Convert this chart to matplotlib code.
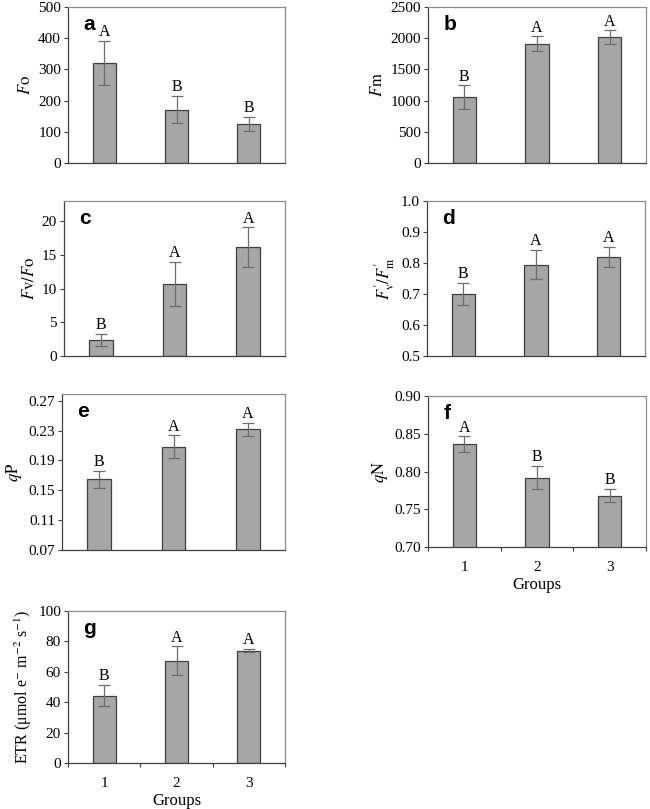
import numpy as np
import matplotlib
matplotlib.use('Agg')
import matplotlib.pyplot as plt
from matplotlib.ticker import FormatStrFormatter, FixedLocator

plt.rcParams['font.family'] = ['Liberation Serif', 'DejaVu Serif']
plt.rcParams['mathtext.fontset'] = 'stix'

# data
groups = ['1', '2', '3']
fo_mean = [321, 171, 125]
fo_err = [70, 44, 23]
fm_mean = [1058, 1912, 2019]
fm_err = [187, 120, 107]
fvfo_mean = [2.4, 10.7, 16.15]
fvfo_err = [0.9, 3.3, 2.95]
fvfm_mean = [0.700, 0.795, 0.819]
fvfm_err = [0.036, 0.047, 0.032]
qp_mean = [0.1646, 0.2084, 0.2316]
qp_err = [0.011, 0.0154, 0.0087]
qn_mean = [0.836, 0.792, 0.768]
qn_err = [0.0104, 0.0152, 0.009]
etr_mean = [44.4, 67.2, 74.0]
etr_err = [7.0, 9.6, 1.1]

sig_a = ['A', 'B', 'B']
sig_b = ['B', 'A', 'A']
sig_c = ['B', 'A', 'A']
sig_d = ['B', 'A', 'A']
sig_e = ['B', 'A', 'A']
sig_f = ['A', 'B', 'B']
sig_g = ['B', 'A', 'A']

W, H = 650, 809
fig = plt.figure(figsize=(6.5, 8.09), dpi=100)


def box(l, r, t, b):
    return [l / W, 1 - b / H, (r - l) / W, (b - t) / H]


panels = [
    ('a', box(68, 285, 7, 163), fo_mean, fo_err, sig_a, (0, 500), np.arange(0, 501, 100), '%d',
     r'$\mathit{F}\mathrm{o}$', False, 12),
    ('b', box(428, 646, 7, 163), fm_mean, fm_err, sig_b, (0, 2500), np.arange(0, 2501, 500), '%d',
     r'$\mathit{F}\mathrm{m}$', False, 12),
    ('c', box(64, 285, 201, 356), fvfo_mean, fvfo_err, sig_c, (0, 23), np.arange(0, 21, 5), '%d',
     r'$\mathit{F}\mathrm{v}/\mathit{F}\mathrm{o}$', False, 12),
    ('d', box(427, 645, 201, 356), fvfm_mean, fvfm_err, sig_d, (0.5, 1.0), np.arange(0.5, 1.01, 0.1), '%.1f',
     r"$\mathit{F}_{\mathrm{v}}^{\prime}/\mathit{F}_{\mathrm{m}}^{\prime}$", False, 12),
    ('e', box(62, 285, 394, 550), qp_mean, qp_err, sig_e, (0.07, 0.279), np.arange(0.07, 0.28, 0.04), '%.2f',
     r'$\mathit{q}\mathrm{P}$', False, 12),
    ('f', box(428, 646, 396, 547), qn_mean, qn_err, sig_f, (0.70, 0.90), np.arange(0.70, 0.91, 0.05), '%.2f',
     r'$\mathit{q}\mathrm{N}$', True, 12),
    ('g', box(68, 285, 611, 763), etr_mean, etr_err, sig_g, (0, 100), np.arange(0, 101, 20), '%d',
     r'ETR (μmol e$^{\mathsf{-}}$ m$^{\mathsf{-}2}$ s$^{\mathsf{-}1}$)', True, 11.5),
]

x = np.arange(1, 4)
for tag, rect, mean, err, sig, ylim, yt, fmt, ylab, show_x, ylsize in panels:
    ax = fig.add_axes(rect)
    ax.bar(x, mean, width=0.32, color='#a6a6a6', edgecolor='#404040', linewidth=0.9, zorder=2)
    ax.errorbar(x, mean, yerr=err, fmt='none', ecolor='#6e6e6e', elinewidth=0.9,
                capsize=4, capthick=0.9, zorder=3)
    for xi, m, e, s in zip(x, mean, err, sig):
        ax.annotate(s, (xi, m + e), xytext=(0, 0.5), textcoords='offset points',
                    ha='center', va='bottom', fontsize=11.5)
    ax.set_xlim(0.5, 3.5)
    ax.set_ylim(*ylim)
    ax.set_yticks(yt)
    ax.yaxis.set_major_formatter(FormatStrFormatter(fmt))
    ax.tick_params(axis='y', labelsize=11, length=3, width=0.8, color='#404040', pad=2)
    for side in ['top', 'right']:
        ax.spines[side].set_color('#8c8c8c')
    for side in ['left', 'bottom']:
        ax.spines[side].set_color('#404040')
    for sp in ax.spines.values():
        sp.set_linewidth(0.9)
    if show_x:
        ax.set_xticks(x)
        ax.set_xticklabels(groups, fontsize=11)
        ax.xaxis.set_minor_locator(FixedLocator([0.5, 1.5, 2.5, 3.5]))
        ax.tick_params(axis='x', which='major', length=0, pad=10)
        ax.tick_params(axis='x', which='minor', length=3, width=0.8, color='#404040')
        ax.set_xlabel('Groups', fontsize=12, labelpad=2)
    else:
        ax.set_xticks([])
    ax.set_ylabel(ylab, fontsize=ylsize, labelpad=3)
    ax.text(0.07, 0.95, tag, transform=ax.transAxes, ha='left', va='top',
            fontsize=15, fontweight='bold', family='Liberation Sans')

fig.savefig('out.png', dpi=100)
